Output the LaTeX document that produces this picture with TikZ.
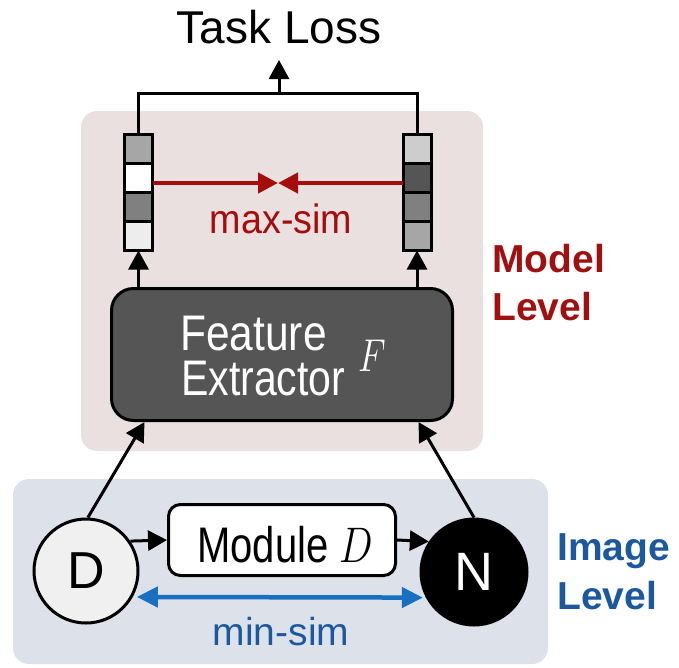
\RequirePackage{fix-cm}
\documentclass[tikz,border=0pt]{standalone}
\usepackage{graphicx}
\usepackage{fontspec}
\setmainfont{Liberation Sans}
\usetikzlibrary{arrows.meta,calc}

\definecolor{modelbg}{RGB}{235,224,224}
\definecolor{imagebg}{RGB}{221,226,234}
\definecolor{modelred}{RGB}{160,16,16}
\definecolor{simred}{RGB}{165,12,12}
\definecolor{imageblue}{RGB}{27,88,158}
\definecolor{simblue}{RGB}{26,112,192}
\definecolor{extractor}{RGB}{85,85,85}
\definecolor{dfill}{RGB}{240,240,240}

\newcommand\setsz[1]{\fontsize{#1}{#1}\selectfont}
\newcommand\narrow[2]{\scalebox{#1}[1]{#2}}

\begin{document}
\begin{tikzpicture}[x=1pt,y=-1pt,
  zone/.style={rounded corners=16pt, draw=none, inner sep=0pt},
  cell/.style={draw=black, line width=3pt, minimum width=28pt, minimum height=29pt, inner sep=0pt, outer sep=0pt},
  conn/.style={line width=3pt, black},
  arr/.style={conn, -{Triangle[length=19pt,width=20pt]}},
  redarr/.style={line width=4.5pt, simred, -{Triangle[length=20pt,width=20pt]}},
  bluearr/.style={line width=4.5pt, simblue, {Triangle[length=21pt,width=20pt]}-{Triangle[length=21pt,width=20pt]}},
  lbl/.style={inner sep=0pt, anchor=base},
  levellbl/.style={inner sep=0pt, anchor=base west, font=\setsz{39}\bfseries},
]
\useasboundingbox (0,0) rectangle (679,667);

% background zones
\node[zone, fill=modelbg, minimum width=402pt, minimum height=340pt] (modelzone) at (282,281) {};
\node[zone, fill=imagebg, minimum width=535pt, minimum height=185pt] (imagezone) at (280.5,571.5) {};

% zone labels
\node[levellbl, text=modelred] (modelA) at (492,272) {Model};
\node[levellbl, text=modelred] (modelB) at (492,320) {Level};
\node[levellbl, text=imageblue] (imageA) at (557,560) {Image};
\node[levellbl, text=imageblue] (imageB) at (557,609) {Level};

% feature vectors
\node[cell, fill={rgb,255:red,166;green,166;blue,166}] (lv1) at (138.5,149) {};
\node[cell, fill=white]                                 (lv2) at (138.5,178) {};
\node[cell, fill={rgb,255:red,128;green,128;blue,128}] (lv3) at (138.5,207) {};
\node[cell, fill={rgb,255:red,237;green,237;blue,237}] (lv4) at (138.5,236) {};
\node[cell, fill={rgb,255:red,205;green,205;blue,205}] (rv1) at (417,149) {};
\node[cell, fill={rgb,255:red,85;green,85;blue,85}]    (rv2) at (417,178) {};
\node[cell, fill={rgb,255:red,128;green,128;blue,128}] (rv3) at (417,207) {};
\node[cell, fill={rgb,255:red,166;green,166;blue,166}] (rv4) at (417,236) {};

% feature extractor
\node[draw=black, line width=3pt, fill=extractor, rounded corners=22pt,
      minimum width=341pt, minimum height=132pt, inner sep=0pt] (fe) at (282,354.5) {};
\node[inner sep=0pt, anchor=base west, text=white] (feA) at (180,350) {\setsz{50}\narrow{0.85}{Feature}};
\node[inner sep=0pt, anchor=base west, text=white] (feB) at (181,395) {\setsz{50}\narrow{0.82}{Extractor}};
\node[inner sep=0pt, text=white] (fsym) at (372,356) {\setsz{46}\narrow{0.78}{$F$}};

% image level
\node[circle, draw=black, line width=3pt, fill=dfill, minimum size=104pt, inner sep=0pt,
      font=\setsz{52}] (dnode) at (86,571) {D};
\node[circle, draw=black, line width=3pt, fill=black, text=white, minimum size=106pt, inner sep=0pt,
      font=\setsz{54}] (nnode) at (474,572) {N};
\node[draw=black, line width=3pt, fill=white, rounded corners=12pt,
      minimum width=227pt, minimum height=71pt, inner sep=0pt] (mod) at (282,540) {};
\node[inner sep=0pt, anchor=base west] (modtxt) at (197,562) {\setsz{50}\narrow{0.8}{Module $D$}};

% task loss
\node[lbl] (loss) at (279,43) {\setsz{46}Task Loss};
\coordinate (join) at (279,93);
\coordinate (losstip) at (279,60);

% connectors
\draw[conn] (lv1.north) |- (join) -| (rv1.north);
\draw[arr] (join) -- (losstip);
\draw[arr] (lv4.south |- fe.north) -- (lv4.south);
\draw[arr] (rv4.south |- fe.north) -- (rv4.south);
\draw[arr] (dnode.88) -- ($(fe.south west)+(34.5,0)$);
\draw[arr] (nnode.north) -- ($(fe.south east)+(-35.5,0)$);
\draw[arr] (dnode.34) -- (mod.west);
\draw[arr] (mod.east) -- (nnode.146);

% similarity arrows
\coordinate (meet) at (278,183);
\draw[redarr] (lv2.east |- meet) -- (meet);
\draw[redarr] (rv2.west |- meet) -- (meet);
\node[lbl, text=simred] (maxsim) at (281,233) {\setsz{41}\narrow{0.92}{max-sim}};

\draw[bluearr, shorten <=4pt, shorten >=3pt] (dnode.-29.4) -- (nnode.-152.4);
\node[lbl, text=imageblue] (minsim) at (281,645) {\setsz{39}min-sim};
\end{tikzpicture}
\end{document}
